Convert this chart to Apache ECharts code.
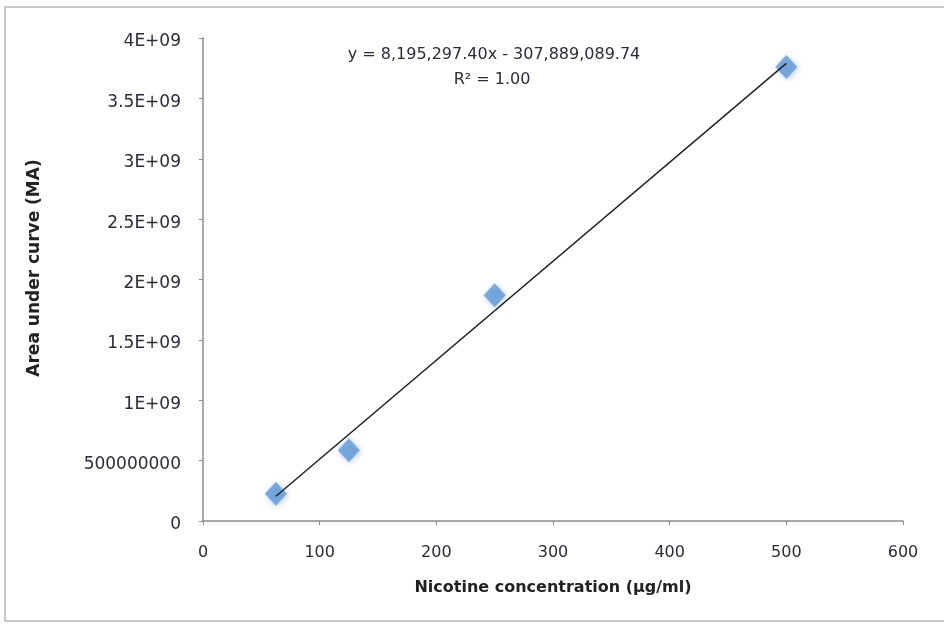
<!DOCTYPE html>
<html>
<head>
<meta charset="utf-8">
<script src="https://cdn.jsdelivr.net/npm/echarts@6/dist/echarts.min.js"></script>
<style>
  html, body { margin: 0; padding: 0; background: #fff; }
  #chart { width: 944px; height: 628px; }
</style>
</head>
<body>
<div id="chart"></div>
<script>
// nicotine concentration (ug/ml) vs area under curve
var concentration = [62.5, 125, 250, 500];
var areaUnderCurve = [2.25e8, 5.85e8, 1.87e9, 3.76e9];

// linear trendline from the chart label
var slope = 8195297.40;
var intercept = -307889089.74;
var trendX = [62.5, 500];

var points = [];
for (var i = 0; i < concentration.length; i++) {
  points.push([concentration[i], areaUnderCurve[i]]);
}
var trend = [];
for (var j = 0; j < trendX.length; j++) {
  trend.push([trendX[j], slope * trendX[j] + intercept]);
}

// excel style labels: 0, 500000000, 1E+09, 1.5E+09 ...
function yLabel(v) {
  if (v === 0) return '0';
  if (v < 1e9) return String(v);
  return (v / 1e9) + 'E+09';
}

var font = '"DejaVu Sans", "Liberation Sans", sans-serif';
var textColor = '#2b2b3a';
var myChart = echarts.init(document.getElementById('chart'));
var option = {
  animation: false,
  backgroundColor: '#fff',
  grid: { left: 203, right: 41, top: 38, bottom: 107 },
  xAxis: {
    type: 'value',
    min: 0, max: 600, interval: 100,
    name: 'Nicotine concentration (µg/ml)',
    nameLocation: 'middle',
    nameGap: 59,
    nameTextStyle: { fontFamily: font, fontSize: 16, fontWeight: 'bold', color: '#222' },
    axisLine: { lineStyle: { color: '#8c8c8c', width: 1.5 } },
    axisTick: { show: true, inside: false, length: 4, lineStyle: { color: '#8c8c8c' } },
    axisLabel: { fontFamily: font, fontSize: 16, color: textColor, margin: 24 },
    splitLine: { show: false }
  },
  yAxis: {
    type: 'value',
    min: 0, max: 4e9, interval: 5e8,
    axisLine: { show: true, lineStyle: { color: '#8c8c8c', width: 1.5 } },
    axisTick: { show: true, inside: false, length: 4, lineStyle: { color: '#8c8c8c' } },
    axisLabel: {
      fontFamily: font, fontSize: 17, color: textColor, margin: 22,
      verticalAlign: 'top', lineHeight: 20, padding: [-6, 0, 0, 0],
      formatter: yLabel
    },
    splitLine: { show: false }
  },
  series: [
    {
      name: 'Linear',
      type: 'line',
      data: trend,
      symbol: 'none',
      lineStyle: { color: '#1e1e1e', width: 1.4 },
      z: 3
    },
    {
      name: 'AUC',
      type: 'scatter',
      data: points,
      symbol: 'diamond',
      symbolSize: [22, 24],
      itemStyle: {
        color: '#5f9ad8',
        shadowBlur: 6,
        shadowColor: 'rgba(60,110,180,0.45)',
        shadowOffsetX: 1,
        shadowOffsetY: 1
      },
      z: 2
    }
  ],
  graphic: [
    {
      type: 'rect',
      shape: { x: 5, y: 7, width: 960, height: 614 },
      style: { fill: 'none', stroke: '#c8c8c8', lineWidth: 2 },
      silent: true
    },
    {
      type: 'text',
      x: 35, y: 268,
      rotation: Math.PI / 2,
      style: {
        text: 'Area under curve (MA)',
        font: 'bold 17px ' + font,
        fill: '#222',
        align: 'center',
        verticalAlign: 'middle'
      }
    },
    {
      type: 'text',
      x: 494, y: 55,
      style: {
        text: 'y = 8,195,297.40x - 307,889,089.74',
        font: '16px ' + font,
        fill: textColor,
        align: 'center',
        verticalAlign: 'middle'
      }
    },
    {
      type: 'text',
      x: 492, y: 80,
      style: {
        text: 'R² = 1.00',
        font: '16px ' + font,
        fill: textColor,
        align: 'center',
        verticalAlign: 'middle'
      }
    }
  ]
};
myChart.setOption(option);
</script>
</body>
</html>
